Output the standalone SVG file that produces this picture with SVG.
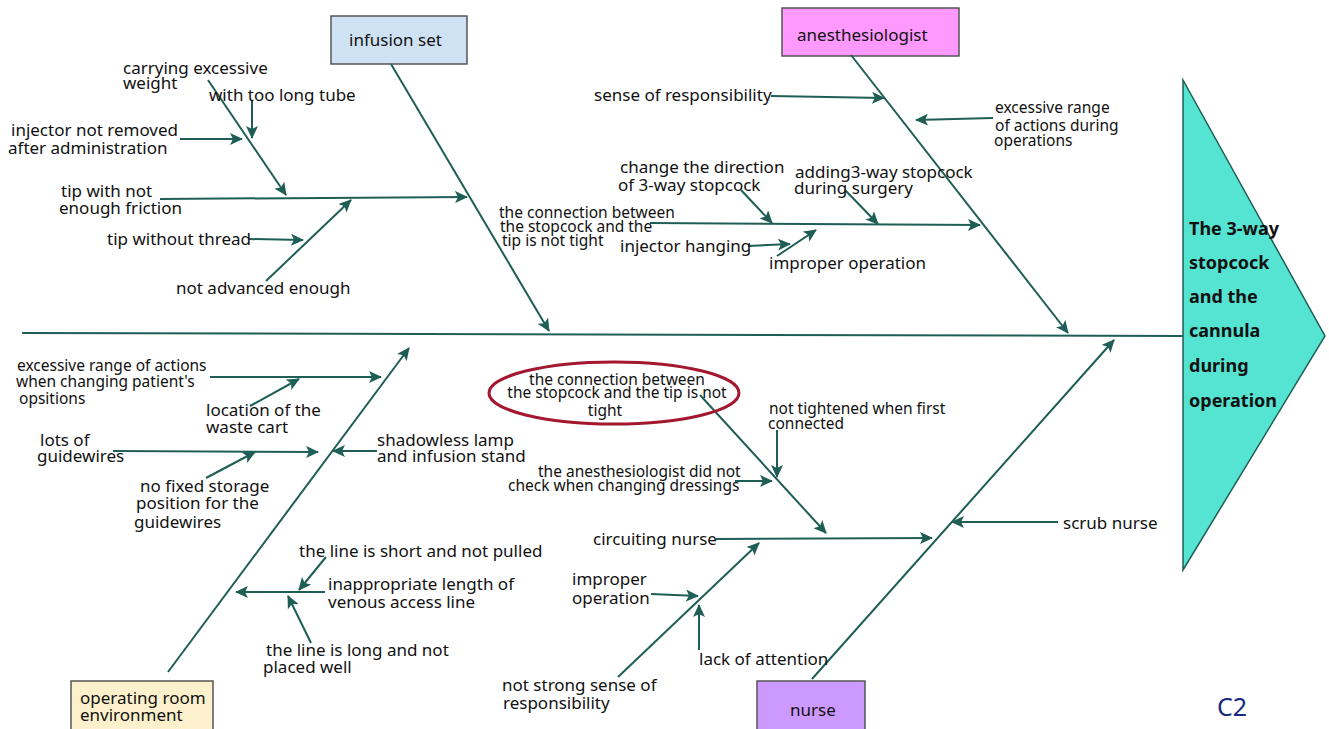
<svg xmlns="http://www.w3.org/2000/svg" width="1329" height="729" viewBox="0 0 1329 729">
<style>
text{font-family:"Noto Sans","Open Sans",sans-serif;font-size:17px;fill:#111}
.s{font-size:15.5px}
.b{font-weight:bold;font-size:18px}
.ln{stroke:#1e5e54;stroke-width:2;fill:none}
.a{marker-end:url(#ah)}
.box{stroke:#555;stroke-width:1.5}
</style>
<defs>
<marker id="ah" markerUnits="userSpaceOnUse" markerWidth="14" markerHeight="12" refX="12" refY="6" orient="auto">
<path d="M0,0 L13,6 L0,12 L3,6 Z" fill="#1e5e54"/>
</marker>
</defs>
<rect width="1329" height="729" fill="#fff"/>

<g id="head">
<polygon points="1183,80 1325,336 1183,570" fill="#55e3d2" stroke="#1e5e54" stroke-width="1.5"/>
<text class="b" x="1189" y="235">The 3-way</text>
<text class="b" x="1189" y="269">stopcock</text>
<text class="b" x="1189" y="303">and the</text>
<text class="b" x="1189" y="337">cannula</text>
<text class="b" x="1189" y="372">during</text>
<text class="b" x="1189" y="407">operation</text>
</g>

<g id="infusion-set">
<rect class="box" x="331" y="16" width="136" height="48" fill="#cfe2f3"/>
<text x="349" y="46">infusion set</text>
</g>
<g id="anesthesiologist">
<rect class="box" x="782" y="8" width="177" height="48" fill="#ff99ff"/>
<text x="797" y="41">anesthesiologist</text>
</g>
<g id="operating-room">
<rect class="box" x="71" y="681" width="142" height="50" fill="#fcf1cc"/>
<text x="80" y="704">operating room</text>
<text x="80" y="721">environment</text>
</g>
<g id="nurse">
<rect class="box" x="757" y="681" width="108" height="50" fill="#cc99ff"/>
<text x="790" y="716">nurse</text>
</g>

<g id="connectors">
<line class="ln" x1="22" y1="333" x2="1183" y2="336"/>
<line class="ln a" x1="391" y1="64" x2="549" y2="331"/>
<line class="ln a" x1="851" y1="55" x2="1068" y2="333"/>
<line class="ln a" x1="168" y1="672" x2="409" y2="348"/>
<line class="ln a" x1="812" y1="679" x2="1114" y2="340"/>

<line class="ln a" x1="160" y1="199" x2="467" y2="197"/>
<line class="ln a" x1="208" y1="80" x2="286" y2="195"/>
<line class="ln a" x1="252" y1="100" x2="252" y2="138"/>
<line class="ln a" x1="180" y1="139" x2="242" y2="139"/>
<line class="ln a" x1="266" y1="281" x2="351" y2="200"/>
<line class="ln a" x1="249" y1="239" x2="303" y2="240"/>

<line class="ln a" x1="771" y1="96" x2="884" y2="98"/>
<line class="ln a" x1="993" y1="118" x2="916" y2="120"/>
<line class="ln a" x1="650" y1="223" x2="980" y2="225"/>
<line class="ln a" x1="741" y1="190" x2="772" y2="223"/>
<line class="ln a" x1="845" y1="190" x2="878" y2="224"/>
<line class="ln a" x1="748" y1="246" x2="790" y2="244"/>
<line class="ln a" x1="777" y1="256" x2="816" y2="230"/>

<line class="ln a" x1="210" y1="377" x2="381" y2="377"/>
<line class="ln a" x1="250" y1="406" x2="299" y2="379"/>
<line class="ln a" x1="113" y1="451" x2="318" y2="452"/>
<line class="ln a" x1="206" y1="478" x2="255" y2="452"/>
<line class="ln a" x1="377" y1="451" x2="333" y2="451"/>
<line class="ln a" x1="325" y1="592" x2="236" y2="592"/>
<line class="ln a" x1="326" y1="557" x2="299" y2="590"/>
<line class="ln a" x1="311" y1="643" x2="288" y2="596"/>

<line class="ln a" x1="716" y1="539" x2="932" y2="538"/>
<line class="ln a" x1="1058" y1="522" x2="952" y2="522"/>
<line class="ln a" x1="700" y1="395" x2="826" y2="533"/>
<line class="ln a" x1="777" y1="430" x2="777" y2="477"/>
<line class="ln a" x1="735" y1="481" x2="772" y2="481"/>
<line class="ln a" x1="618" y1="677" x2="759" y2="543"/>
<line class="ln a" x1="651" y1="594" x2="698" y2="596"/>
<line class="ln a" x1="699" y1="650" x2="699" y2="605"/>
</g>

<g id="labels-infusion">
<text x="123" y="74">carrying excessive</text>
<text x="123" y="89">weight</text>
<text x="209" y="101">with  too long tube</text>
<text x="11" y="136">injector not removed</text>
<text x="8" y="154">after administration</text>
<text x="61" y="197">tip with not</text>
<text x="59" y="214">enough friction</text>
<text x="107" y="245">tip without thread</text>
<text x="176" y="294">not advanced enough</text>
</g>
<g id="labels-anesth">
<text x="594" y="101">sense of responsibility</text>
<text class="s" x="995" y="113">excessive range</text>
<text class="s" x="995" y="131">of actions during</text>
<text class="s" x="994" y="146">operations</text>
<text x="620" y="173">change the direction</text>
<text x="618" y="191">of 3-way stopcock</text>
<text x="795" y="178">adding3-way stopcock</text>
<text x="794" y="194">during surgery</text>
<text class="s" x="499" y="218">the connection between</text>
<text class="s" x="500" y="232">the stopcock and the</text>
<text class="s" x="502" y="246">tip is not tight</text>
<text x="620" y="252">injector hanging</text>
<text x="769" y="269">improper operation</text>
</g>
<g id="labels-env">
<text class="s" x="17" y="371">excessive range of actions</text>
<text class="s" x="16" y="387">when changing patient's</text>
<text class="s" x="19" y="404">opsitions</text>
<text x="206" y="416">location of the</text>
<text x="206" y="433">waste cart</text>
<text x="40" y="446">lots of</text>
<text x="37" y="462">guidewires</text>
<text x="140" y="492">no fixed storage</text>
<text x="136" y="509">position for the</text>
<text x="134" y="528">guidewires</text>
<text x="377" y="446">shadowless lamp</text>
<text x="377" y="462">and infusion stand</text>
<text x="299" y="557">the line is short and not pulled</text>
<text x="328" y="590">inappropriate length of</text>
<text x="328" y="608">venous access line</text>
<text x="266" y="656">the line is long and not</text>
<text x="263" y="673">placed well</text>
</g>
<g id="labels-nurse">
<ellipse cx="614" cy="393" rx="125" ry="31" fill="none" stroke="#a3172f" stroke-width="3"/>
<text class="s" x="617" y="385" text-anchor="middle">the connection between</text>
<text class="s" x="617" y="398" text-anchor="middle">the stopcock and the tip is not</text>
<text class="s" x="605" y="416" text-anchor="middle">tight</text>
<text class="s" x="769" y="414">not tightened when first</text>
<text class="s" x="768" y="429">connected</text>
<text class="s" x="538" y="477">the anesthesiologist did not</text>
<text class="s" x="508" y="491">check when changing dressings</text>
<text x="593" y="545">circuiting nurse</text>
<text x="1063" y="529">scrub nurse</text>
<text x="572" y="585">improper</text>
<text x="572" y="604">operation</text>
<text x="699" y="665">lack of attention</text>
<text x="502" y="691">not strong sense of</text>
<text x="503" y="709">responsibility</text>
</g>
<text x="1217" y="716" style="font-size:25px;fill:#1a2a80">C2</text>
</svg>
